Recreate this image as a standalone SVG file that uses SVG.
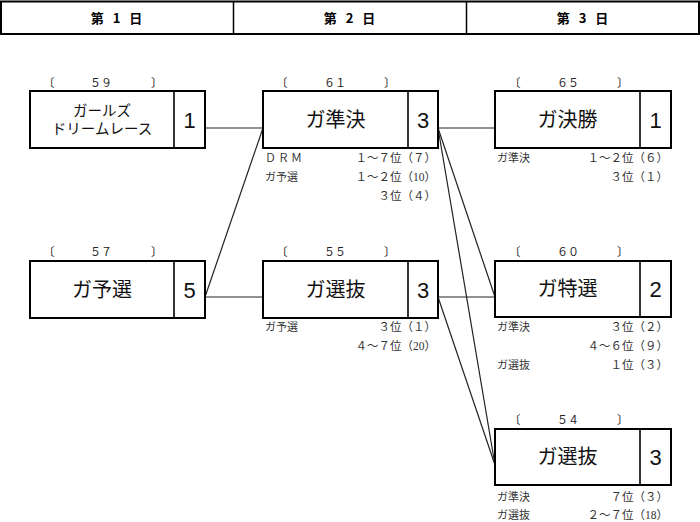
<svg xmlns="http://www.w3.org/2000/svg" width="700" height="522" viewBox="0 0 700 522">
<style>
.hdr{font-family:"Noto Sans CJK JP","Liberation Sans",sans-serif;font-size:13px;font-weight:bold;text-anchor:middle;fill:#000;letter-spacing:3px}
.box{fill:#fff;stroke:#000;stroke-width:2}
.div{stroke:#000;stroke-width:1.6}
.ttl{font-family:"Noto Sans CJK JP",sans-serif;font-size:20px;text-anchor:middle;fill:#111}
.ttl2{font-family:"Noto Sans CJK JP",sans-serif;font-size:14.5px;text-anchor:middle;fill:#111}
.num{font-family:"Liberation Sans","Noto Sans CJK JP",sans-serif;font-size:22px;text-anchor:middle;fill:#111}
.br{font-family:"Noto Sans CJK JP",sans-serif;font-size:11.5px;fill:#222}
.brn{font-family:"Noto Sans CJK JP",sans-serif;font-size:11px;fill:#222;text-anchor:middle}
.sl{font-family:"Noto Sans CJK JP",sans-serif;font-size:11px;fill:#333}
.sr{font-family:"Liberation Serif","Noto Sans CJK JP",serif;font-size:11.5px;fill:#333;text-anchor:end}
.ln{stroke:#222;stroke-width:1.2;fill:none}
</style>
<g id="header">
<rect x="1" y="1.5" width="698" height="32.5" fill="#fff" stroke="#000" stroke-width="2"/>
<line x1="233.5" y1="1.5" x2="233.5" y2="34" stroke="#000" stroke-width="1.5"/>
<line x1="466.5" y1="1.5" x2="466.5" y2="34" stroke="#000" stroke-width="1.5"/>
<text class="hdr" x="118" y="23">第 1 日</text>
<text class="hdr" x="351" y="23">第 2 日</text>
<text class="hdr" x="584" y="23">第 3 日</text>
</g>
<g id="connectors">
<line class="ln" x1="205" y1="128" x2="263" y2="128"/>
<line class="ln" x1="205" y1="297" x2="263" y2="128"/>
<line class="ln" x1="205" y1="297" x2="263" y2="297"/>
<line class="ln" x1="438" y1="128" x2="495" y2="128"/>
<line class="ln" x1="438" y1="128" x2="495" y2="297"/>
<line class="ln" x1="438" y1="128" x2="495" y2="465"/>
<line class="ln" x1="438" y1="297" x2="495" y2="297"/>
<line class="ln" x1="438" y1="297" x2="495" y2="465"/>
</g>
<g id="node59">
<text class="br" x="43" y="87">〔</text><text class="brn" x="101" y="87">５９</text><text class="br" x="151" y="87">〕</text>
<rect class="box" x="30" y="91" width="175" height="57"/>
<line class="div" x1="174" y1="91" x2="174" y2="148"/>
<text class="ttl2"><tspan x="102" y="116">ガールズ</tspan><tspan x="102" y="134">ドリームレース</tspan></text>
<text class="num" x="189.5" y="128">1</text>
</g>
<g id="node61">
<text class="br" x="276" y="87">〔</text><text class="brn" x="335" y="87">６１</text><text class="br" x="384" y="87">〕</text>
<rect class="box" x="263" y="91" width="175" height="57"/>
<line class="div" x1="408" y1="91" x2="408" y2="148"/>
<text class="ttl" x="335.5" y="127">ガ準決</text>
<text class="num" x="423" y="128">3</text>
<text class="sl" x="265" y="162" letter-spacing="2">ＤＲＭ</text>
<text class="sr" x="436" y="162">１～７位（７）</text>
<text class="sl" x="265" y="181">ガ予選</text>
<text class="sr" x="436" y="181">１～２位（10）</text>
<text class="sr" x="436" y="200">３位（４）</text>
</g>
<g id="node65">
<text class="br" x="509" y="87">〔</text><text class="brn" x="568" y="87">６５</text><text class="br" x="617" y="87">〕</text>
<rect class="box" x="495" y="91" width="176" height="57"/>
<line class="div" x1="640" y1="91" x2="640" y2="148"/>
<text class="ttl" x="567.5" y="127">ガ決勝</text>
<text class="num" x="655.5" y="128">1</text>
<text class="sl" x="497" y="162">ガ準決</text>
<text class="sr" x="668" y="162">１～２位（６）</text>
<text class="sr" x="668" y="181">３位（１）</text>
</g>
<g id="node57">
<text class="br" x="43" y="256">〔</text><text class="brn" x="101" y="256">５７</text><text class="br" x="151" y="256">〕</text>
<rect class="box" x="30" y="261" width="175" height="57"/>
<line class="div" x1="174" y1="261" x2="174" y2="318"/>
<text class="ttl" x="102" y="297">ガ予選</text>
<text class="num" x="189.5" y="298">5</text>
</g>
<g id="node55">
<text class="br" x="276" y="256">〔</text><text class="brn" x="335" y="256">５５</text><text class="br" x="384" y="256">〕</text>
<rect class="box" x="263" y="261" width="175" height="57"/>
<line class="div" x1="408" y1="261" x2="408" y2="318"/>
<text class="ttl" x="335.5" y="297">ガ選抜</text>
<text class="num" x="423" y="298">3</text>
<text class="sl" x="265" y="331">ガ予選</text>
<text class="sr" x="436" y="331">３位（１）</text>
<text class="sr" x="436" y="350">４～７位（20）</text>
</g>
<g id="node60">
<text class="br" x="509" y="256">〔</text><text class="brn" x="568" y="256">６０</text><text class="br" x="617" y="256">〕</text>
<rect class="box" x="495" y="261" width="176" height="56"/>
<line class="div" x1="640" y1="261" x2="640" y2="317"/>
<text class="ttl" x="567.5" y="296">ガ特選</text>
<text class="num" x="655.5" y="297">2</text>
<text class="sl" x="497" y="331">ガ準決</text>
<text class="sr" x="668" y="331">３位（２）</text>
<text class="sr" x="668" y="350">４～６位（９）</text>
<text class="sl" x="497" y="369">ガ選抜</text>
<text class="sr" x="668" y="369">１位（３）</text>
</g>
<g id="node54">
<text class="br" x="509" y="424">〔</text><text class="brn" x="568" y="424">５４</text><text class="br" x="617" y="424">〕</text>
<rect class="box" x="495" y="429" width="176" height="56"/>
<line class="div" x1="640" y1="429" x2="640" y2="485"/>
<text class="ttl" x="567.5" y="464">ガ選抜</text>
<text class="num" x="655.5" y="465">3</text>
<text class="sl" x="497" y="501">ガ準決</text>
<text class="sr" x="668" y="501">７位（３）</text>
<text class="sl" x="497" y="519">ガ選抜</text>
<text class="sr" x="668" y="519">２～７位（18）</text>
</g>
</svg>
